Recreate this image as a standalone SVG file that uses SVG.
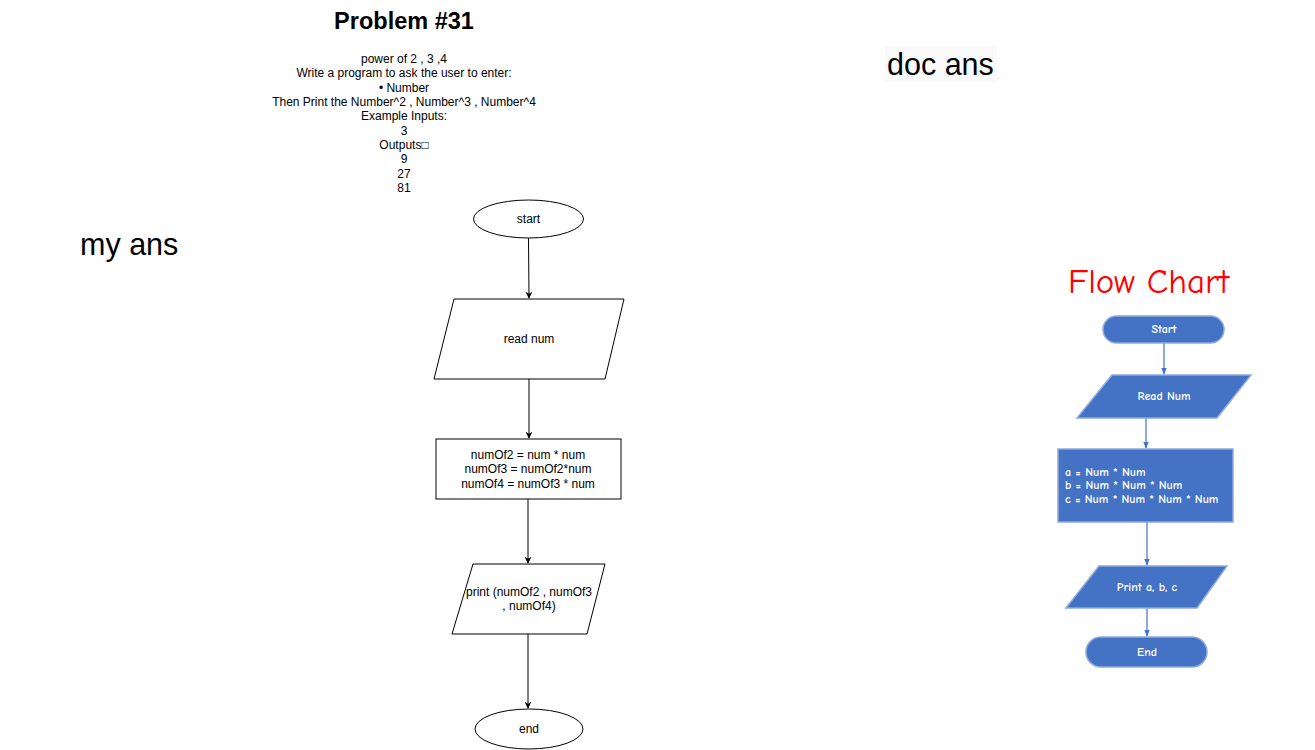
<svg xmlns="http://www.w3.org/2000/svg" width="1315" height="750" viewBox="0 0 1315 750">
<defs>
<style>
.t{font-family:"Liberation Sans",Arial,sans-serif;fill:#000}
.s{font-size:12px}
.bk{fill:#fff;stroke:#000;stroke-width:1}
.con{fill:none;stroke:#000;stroke-width:1}
.bcon{fill:none;stroke:#4472C4;stroke-width:1.2}
.bl{fill:#4472C4;stroke:#8FAADC;stroke-width:1.5}
.w{font-family:"Comic Neue","DejaVu Sans",sans-serif;fill:#fff;font-weight:bold;font-size:12px}
</style>
<marker id="ah" viewBox="0 0 10 10" refX="9" refY="5" markerWidth="7" markerHeight="7" orient="auto" markerUnits="userSpaceOnUse"><path d="M0,0 L10,5 L0,10 L3,5 z" fill="#000"/></marker>
<marker id="bh" viewBox="0 0 10 10" refX="9" refY="5" markerWidth="7" markerHeight="7" orient="auto" markerUnits="userSpaceOnUse"><path d="M0,1 L10,5 L0,9 z" fill="#4472C4"/></marker>
</defs>
<rect width="1315" height="750" fill="#fff"/>

<g id="title">
<text class="t" x="404" y="29" font-size="23.5" font-weight="bold" text-anchor="middle">Problem #31</text>
</g>
<g id="description" class="t s" text-anchor="middle">
<text x="404" y="63">power of 2 , 3 ,4</text>
<text x="404" y="77">Write a program to ask the user to enter:</text>
<text x="404" y="92">• Number</text>
<text x="404" y="106">Then Print the Number^2 , Number^3 , Number^4</text>
<text x="404" y="120">Example Inputs:</text>
<text x="404" y="135">3</text>
<text x="404" y="149">Outputs□</text>
<text x="404" y="163">9</text>
<text x="404" y="178">27</text>
<text x="404" y="192">81</text>
</g>
<g id="my-ans"><text class="t" x="80" y="255" font-size="30.5">my ans</text></g>
<g id="doc-ans"><rect x="885" y="46" width="112" height="36" fill="#fafafa"/><text class="t" x="887" y="75" font-size="30.5">doc ans</text></g>

<g id="connectors">
<line class="con" x1="528.5" y1="238" x2="529" y2="298" marker-end="url(#ah)"/>
<line class="con" x1="529" y1="379" x2="529" y2="438" marker-end="url(#ah)"/>
<line class="con" x1="528" y1="499" x2="528" y2="563" marker-end="url(#ah)"/>
<line class="con" x1="528" y1="634" x2="528" y2="708" marker-end="url(#ah)"/>
<line class="bcon" x1="1164" y1="343" x2="1164" y2="374" marker-end="url(#bh)"/>
<line class="bcon" x1="1146" y1="418" x2="1146" y2="448" marker-end="url(#bh)"/>
<line class="bcon" x1="1147" y1="522" x2="1147" y2="565" marker-end="url(#bh)"/>
<line class="bcon" x1="1147" y1="608" x2="1147" y2="636" marker-end="url(#bh)"/>
</g>

<g id="start">
<ellipse class="bk" cx="528.5" cy="219" rx="55" ry="19"/>
<text class="t s" x="528.5" y="223" text-anchor="middle">start</text>
</g>
<g id="read-num">
<polygon class="bk" points="454,299 624,299 605,379 434,379"/>
<text class="t s" x="529" y="343" text-anchor="middle">read num</text>
</g>
<g id="compute">
<rect class="bk" x="436" y="439" width="185" height="60"/>
<text class="t s" x="528" y="459" text-anchor="middle">numOf2 = num * num</text>
<text class="t s" x="528" y="473" text-anchor="middle">numOf3 = numOf2*num</text>
<text class="t s" x="528" y="488" text-anchor="middle">numOf4 = numOf3 * num</text>
</g>
<g id="print">
<polygon class="bk" points="473,564 605,564 587,634 452,634"/>
<text class="t s" x="529" y="596" text-anchor="middle">print (numOf2 , numOf3</text>
<text class="t s" x="529" y="610" text-anchor="middle">, numOf4)</text>
</g>
<g id="end">
<ellipse class="bk" cx="529" cy="729" rx="54" ry="20"/>
<text class="t s" x="529" y="733" text-anchor="middle">end</text>
</g>

<g id="flow-chart-title">
<text x="1068" y="293" font-family="'Comic Neue','DejaVu Sans',sans-serif" font-size="35" fill="#FF0000">Flow Chart</text>
</g>
<g id="doc-start">
<rect class="bl" x="1103" y="316" width="121" height="27" rx="13.5"/>
<text class="w" x="1164" y="333" text-anchor="middle">Start</text>
</g>
<g id="doc-read">
<polygon class="bl" points="1112,375 1251,375 1217,418 1077,418"/>
<text class="w" x="1164" y="400" text-anchor="middle">Read Num</text>
</g>
<g id="doc-compute">
<rect class="bl" x="1058" y="449" width="175" height="73"/>
<text class="w" x="1065" y="476">a = Num * Num</text>
<text class="w" x="1065" y="489">b = Num * Num * Num</text>
<text class="w" x="1065" y="503">c = Num * Num * Num * Num</text>
</g>
<g id="doc-print">
<polygon class="bl" points="1099,566 1227,566 1197,608 1066,608"/>
<text class="w" x="1147" y="591" text-anchor="middle">Print a, b, c</text>
</g>
<g id="doc-end">
<rect class="bl" x="1086" y="637" width="121" height="30" rx="15"/>
<text class="w" x="1147" y="656" text-anchor="middle">End</text>
</g>
</svg>
